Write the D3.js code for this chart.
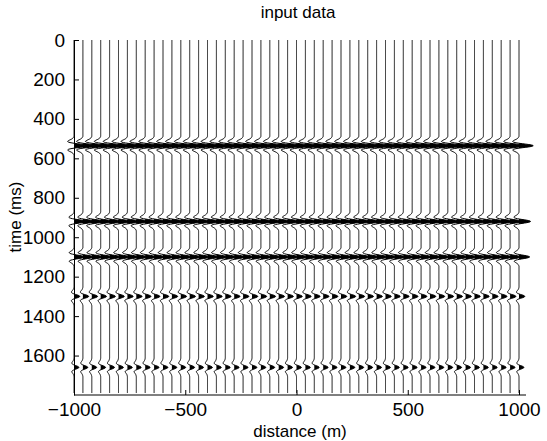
<!DOCTYPE html>
<html>
<head>
<meta charset="utf-8">
<script src="https://cdn.jsdelivr.net/npm/d3@7"></script>
<style>
  body { margin: 0; background: #fff; }
  text { font-family: "Liberation Sans", Arial, sans-serif; fill: #000; }
  .axis path, .axis line { stroke: #000; }
  .axis text { font-size: 19px; }
</style>
</head>
<body>
<div id="chart"></div>
<script>
// trace positions (m)
var distances = [-1000, -960, -920, -880, -840, -800, -760, -720, -680, -640,
    -600, -560, -520, -480, -440, -400, -360, -320, -280, -240,
    -200, -160, -120, -80, -40, 0, 40, 80, 120, 160,
    200, 240, 280, 320, 360, 400, 440, 480, 520, 560,
    600, 640, 680, 720, 760, 800, 840, 880, 920, 960, 1000];

// flat reflections: time (ms) and amplitude (in trace spacings)
var eventTimes = [536, 920, 1100, 1300, 1660];
var eventAmps = [1.6, 1.3, 1.2, 0.65, 0.55];

// wavelet, one sample every 2 ms, peak in the middle
var wavelet = [-0.01, -0.02, -0.04, -0.06, -0.08, -0.12, -0.16, -0.21, -0.27, -0.33,
    -0.38, -0.43, -0.45, -0.43, -0.38, -0.28, -0.14, 0.05, 0.26, 0.48,
    0.69, 0.85, 0.96, 1.0, 0.96, 0.85, 0.69, 0.48, 0.26, 0.05,
    -0.14, -0.28, -0.38, -0.43, -0.45, -0.43, -0.38, -0.33, -0.27, -0.21,
    -0.16, -0.12, -0.08, -0.06, -0.04, -0.02, -0.01];

var timeTicks = [0, 200, 400, 600, 800, 1000, 1200, 1400, 1600];
var distTicks = [-1000, -500, 0, 500, 1000];

var W = 547, H = 441;
var svg = d3.select('#chart').append('svg').attr('width', W).attr('height', H);

var left = 74, bottom = 395;
var x = d3.scaleLinear().domain([-1000, 1000]).range([left, 519]);
var y = d3.scaleLinear().domain([0, 1800]).range([40, bottom]);

var dt = 2, tMax = 1790;
var spacing = x(40) - x(0);
var half = (wavelet.length - 1) / 2;

// sampled trace values (same for every trace, events are flat)
var samples = [];
for (var t = 0; t <= tMax; t += dt) {
    var v = 0;
    eventTimes.forEach(function (te, i) {
        var k = Math.round((t - te) / dt) + half;
        if (k >= 0 && k < wavelet.length) v += eventAmps[i] * wavelet[k];
    });
    samples.push({ t: t, v: v });
}

var traces = svg.append('g');
distances.forEach(function (d) {
    // positive lobes filled black
    var area = d3.area()
        .y(function (s) { return y(s.t); })
        .x0(x(d))
        .x1(function (s) { return x(d) + Math.max(0, s.v) * spacing; });
    traces.append('path')
        .datum(samples)
        .attr('d', area)
        .attr('fill', '#000');

    var line = d3.line()
        .x(function (s) { return x(d) + s.v * spacing; })
        .y(function (s) { return y(s.t); });
    traces.append('path')
        .datum(samples)
        .attr('d', line)
        .attr('fill', 'none')
        .attr('stroke', '#000')
        .attr('stroke-width', 1);
});

// axes, MATLAB style: ticks inside, no box
var xAxis = svg.append('g')
    .attr('class', 'axis')
    .attr('transform', 'translate(0,' + bottom + ')')
    .call(d3.axisBottom(x).tickValues(distTicks).tickSize(-5).tickSizeOuter(0)
        .tickPadding(8).tickFormat(function (d) { return d < 0 ? '\u2212' + Math.abs(d) : d; }));
xAxis.select('.domain').attr('d', 'M' + left + ',0H526');

svg.append('g')
    .attr('class', 'axis')
    .attr('transform', 'translate(' + left + ',0)')
    .call(d3.axisLeft(y).tickValues(timeTicks).tickSize(-5).tickSizeOuter(0)
        .tickPadding(9).tickFormat(d3.format('d')));

svg.append('text')
    .attr('x', 298)
    .attr('y', 18)
    .attr('text-anchor', 'middle')
    .style('font-size', '17px')
    .text('input data');

svg.append('text')
    .attr('x', 300)
    .attr('y', 437)
    .attr('text-anchor', 'middle')
    .style('font-size', '17px')
    .text('distance (m)');

svg.append('text')
    .attr('transform', 'translate(21,217) rotate(-90)')
    .attr('text-anchor', 'middle')
    .style('font-size', '17px')
    .text('time (ms)');
</script>
</body>
</html>
